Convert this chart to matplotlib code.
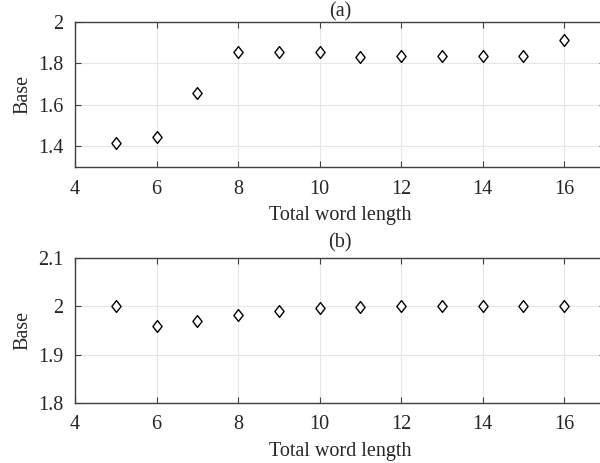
import matplotlib
matplotlib.use("Agg")
import matplotlib.pyplot as plt
from matplotlib.path import Path

# total word length on x, fitted base on y
word_len = [5, 6, 7, 8, 9, 10, 11, 12, 13, 14, 15, 16]
base_a = [1.414, 1.443, 1.656, 1.853, 1.853, 1.855, 1.832, 1.837, 1.837, 1.835, 1.835, 1.914]
base_b = [2.000, 1.960, 1.969, 1.983, 1.991, 1.996, 1.998, 2.000, 2.000, 2.000, 2.000, 2.000]

yticks_a = [1.4, 1.6, 1.8, 2.0]
yticks_b = [1.8, 1.9, 2.0, 2.1]
xticks = [4, 6, 8, 10, 12, 14, 16]

plt.rcParams["font.family"] = ["Liberation Serif", "DejaVu Serif"]
plt.rcParams["font.size"] = 14.5

TXT = "#262626"
# MATLAB-like diamond, a bit narrower than tall
diamond = Path([(0, 1), (0.78, 0), (0, -1), (-0.78, 0), (0, 1)],
               [Path.MOVETO, Path.LINETO, Path.LINETO, Path.LINETO, Path.CLOSEPOLY])

fig = plt.figure(figsize=(6.0, 4.63), dpi=100)
ax_a = fig.add_axes([0.125, 0.6393, 0.8833, 0.3132])
ax_b = fig.add_axes([0.125, 0.1296, 0.8833, 0.3132])


def style(ax, y, ylim, yticks, ylabels, title, tpad):
    ax.plot(word_len, y, ls="none", marker=diamond, ms=8.5, mfc="white",
            mec="black", mew=1.0, zorder=3)
    ax.set_xlim(4, 17)
    ax.set_ylim(*ylim)
    ax.set_xticks(xticks)
    ax.set_yticks(yticks)
    ax.set_yticklabels(ylabels)
    ax.grid(True, color="#e6e6e6", lw=0.8)
    ax.set_axisbelow(True)
    for s in ax.spines.values():
        s.set_color("#404040")
        s.set_linewidth(1.0)
    ax.tick_params(direction="in", length=4, width=0.8, color="#404040",
                   labelcolor=TXT, top=True, right=True)
    ax.tick_params(axis="x", pad=9)
    ax.tick_params(axis="y", pad=8.5)
    ax.set_xlabel("Total word length", color=TXT, labelpad=5.3)
    ax.set_ylabel("Base", color=TXT, labelpad=4)
    ax.set_title(title, color=TXT, fontsize=14.5, pad=tpad)


style(ax_a, base_a, (1.3, 2.0), yticks_a, ["1.4", "1.6", "1.8", "2"], "(a)", 4)
style(ax_b, base_b, (1.8, 2.1), yticks_b, ["1.8", "1.9", "2", "2.1"], "(b)", 7.3)

fig.savefig("out.png", dpi=100)
